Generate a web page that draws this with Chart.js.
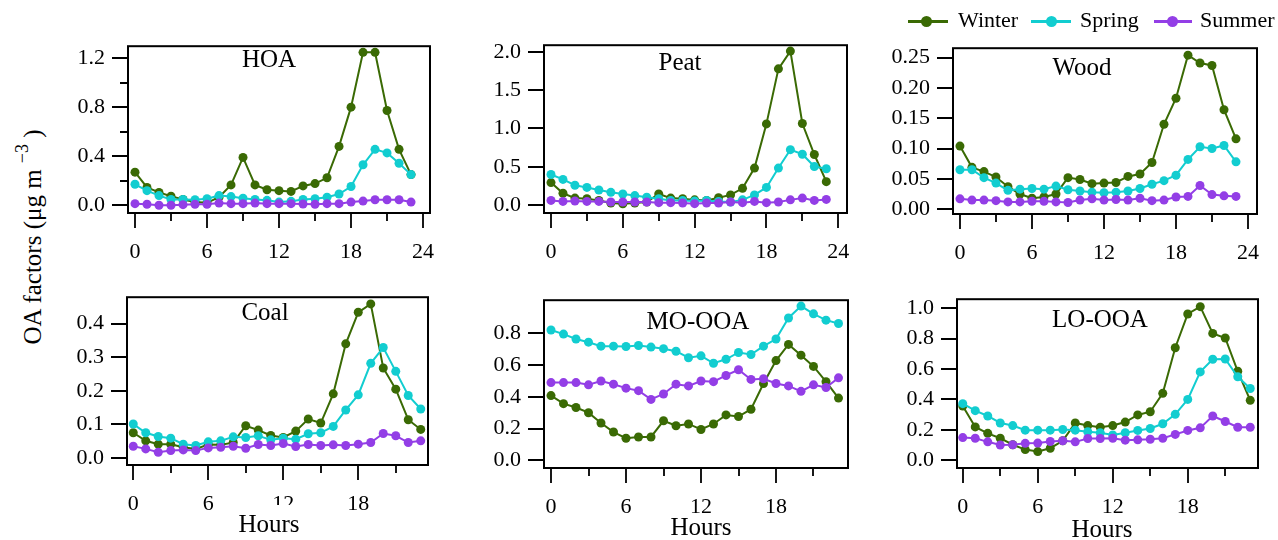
<!DOCTYPE html>
<html>
<head>
<meta charset="utf-8">
<script src="https://cdn.jsdelivr.net/npm/chart.js@4.4.1/dist/chart.umd.min.js"></script>
<style>
  body { margin: 0; background: #fff; }
  #wrap { position: relative; width: 1278px; height: 540px; overflow: hidden;
          font-family: 'Liberation Serif', 'Times New Roman', serif; color: #000; }
  #wrap canvas { position: absolute; }
  .lbl { position: absolute; line-height: 1; white-space: nowrap; z-index: 2; }
  .title { font-size: 25px; transform: translateX(-50%); }
  .hours { font-size: 25px; transform: translateX(-50%); background: #fff; padding: 0 3px; }
  .leg { font-size: 22px; }
  .legline { position: absolute; height: 3px; z-index: 2; }
  .legdot { position: absolute; width: 11px; height: 11px; border-radius: 50%; z-index: 2; }
  #ylab { position: absolute; left: 33px; top: 237px; font-size: 25px; white-space: nowrap;
          transform: translate(-50%, -50%) rotate(-90deg); }
  #ylab .sup { font-size: 18px; position: relative; top: -13px; }
</style>
</head>
<body>
<div id="wrap">
  <div id="ylab">OA factors (μg m <span class="sup">−3</span> )</div>

  <div class="lbl title" style="left:269px; top:45.6px">HOA</div>
  <div class="lbl title" style="left:680px; top:49px">Peat</div>
  <div class="lbl title" style="left:1082px; top:54px">Wood</div>
  <div class="lbl title" style="left:265px; top:299px">Coal</div>
  <div class="lbl title" style="left:698px; top:308px">MO-OOA</div>
  <div class="lbl title" style="left:1100px; top:305.6px">LO-OOA</div>

  <div class="lbl hours" style="left:269px; top:505px; padding-top:5.6px">Hours</div>
  <div class="lbl hours" style="left:701px; top:514px">Hours</div>
  <div class="lbl hours" style="left:1102px; top:515.6px">Hours</div>

  <div class="legline" style="left:908px; top:20px; width:40px; background:#3a6a04"></div>
  <div class="legdot" style="left:921px; top:16px; background:#3a6a04"></div>
  <div class="lbl leg" style="left:958px; top:9.4px">Winter</div>
  <div class="legline" style="left:1031px; top:20px; width:40px; background:#12cdd0"></div>
  <div class="legdot" style="left:1046px; top:16px; background:#12cdd0"></div>
  <div class="lbl leg" style="left:1080px; top:9.4px">Spring</div>
  <div class="legline" style="left:1154px; top:20px; width:38px; background:#933ee6"></div>
  <div class="legdot" style="left:1167px; top:16px; background:#933ee6"></div>
  <div class="lbl leg" style="left:1200px; top:9.4px">Summer</div>
</div>
<script>
// hours of day
const hours = [0,1,2,3,4,5,6,7,8,9,10,11,12,13,14,15,16,17,18,19,20,21,22,23];
const seasons = ['Winter', 'Spring', 'Summer'];
const colors = ['#3a6a04', '#12cdd0', '#933ee6'];

// diurnal profiles (ug m-3)
const hoaWinter = [0.27,0.145,0.105,0.074,0.047,0.026,0.02,0.066,0.166,0.39,0.166,0.127,0.119,0.113,0.158,0.177,0.224,0.48,0.80,1.247,1.247,0.773,0.456,0.25];
const hoaSpring = [0.171,0.119,0.079,0.047,0.047,0.045,0.053,0.079,0.071,0.058,0.047,0.04,0.026,0.032,0.047,0.053,0.066,0.092,0.153,0.33,0.456,0.427,0.343,0.25];
const hoaSummer = [0.013,0.008,0.0,0.0,0.005,0.008,0.008,0.018,0.013,0.013,0.018,0.013,0.013,0.013,0.01,0.008,0.013,0.013,0.026,0.034,0.045,0.045,0.045,0.026];

const peatWinter = [0.295,0.156,0.093,0.084,0.063,0.03,0.02,0.03,0.042,0.147,0.093,0.084,0.07,0.063,0.097,0.135,0.22,0.484,1.06,1.777,2.008,1.065,0.661,0.307];
const peatSpring = [0.40,0.337,0.261,0.232,0.198,0.168,0.147,0.126,0.105,0.084,0.063,0.063,0.055,0.063,0.05,0.042,0.07,0.135,0.232,0.484,0.724,0.665,0.505,0.476];
const peatSummer = [0.063,0.05,0.055,0.05,0.05,0.042,0.042,0.042,0.042,0.034,0.034,0.03,0.021,0.03,0.03,0.042,0.034,0.05,0.034,0.042,0.07,0.093,0.063,0.076];

const woodWinter = [0.104,0.069,0.062,0.053,0.037,0.025,0.018,0.02,0.025,0.052,0.049,0.042,0.043,0.044,0.054,0.058,0.077,0.14,0.183,0.254,0.241,0.237,0.164,0.116];
const woodSpring = [0.065,0.065,0.052,0.043,0.031,0.033,0.034,0.033,0.038,0.032,0.03,0.028,0.027,0.028,0.03,0.034,0.041,0.047,0.056,0.082,0.103,0.1,0.105,0.078];
const woodSummer = [0.017,0.015,0.015,0.014,0.012,0.012,0.013,0.013,0.012,0.011,0.015,0.017,0.015,0.016,0.015,0.018,0.014,0.015,0.02,0.021,0.039,0.024,0.022,0.021];

const coalWinter = [0.075,0.051,0.041,0.041,0.032,0.027,0.04,0.039,0.046,0.096,0.083,0.067,0.061,0.08,0.116,0.104,0.191,0.34,0.434,0.459,0.268,0.205,0.114,0.085];
const coalSpring = [0.101,0.075,0.064,0.059,0.041,0.037,0.048,0.051,0.063,0.061,0.066,0.054,0.059,0.056,0.072,0.075,0.094,0.143,0.188,0.282,0.329,0.258,0.186,0.146];
const coalSummer = [0.035,0.027,0.017,0.022,0.024,0.022,0.03,0.032,0.035,0.029,0.04,0.037,0.043,0.034,0.04,0.037,0.039,0.037,0.041,0.046,0.073,0.066,0.046,0.051];

const mooaWinter = [0.408,0.357,0.333,0.30,0.235,0.178,0.139,0.147,0.147,0.249,0.218,0.229,0.194,0.229,0.286,0.276,0.322,0.484,0.629,0.731,0.663,0.592,0.496,0.392];
const mooaSpring = [0.822,0.796,0.765,0.745,0.72,0.72,0.718,0.724,0.714,0.704,0.688,0.647,0.659,0.612,0.637,0.68,0.667,0.72,0.765,0.898,0.973,0.924,0.884,0.863];
const mooaSummer = [0.49,0.49,0.49,0.476,0.50,0.48,0.455,0.439,0.384,0.418,0.48,0.469,0.50,0.496,0.535,0.571,0.51,0.514,0.484,0.469,0.435,0.476,0.459,0.52];

const looaWinter = [0.357,0.219,0.177,0.145,0.102,0.07,0.057,0.079,0.128,0.245,0.228,0.217,0.228,0.251,0.298,0.319,0.44,0.74,0.962,1.01,0.834,0.804,0.585,0.394];
const looaSpring = [0.372,0.326,0.291,0.245,0.228,0.198,0.198,0.198,0.202,0.198,0.187,0.181,0.166,0.181,0.196,0.209,0.24,0.302,0.4,0.581,0.664,0.666,0.549,0.472];
const looaSummer = [0.149,0.145,0.121,0.10,0.102,0.111,0.113,0.123,0.128,0.121,0.143,0.143,0.145,0.132,0.134,0.138,0.145,0.17,0.196,0.213,0.291,0.255,0.217,0.217];

// tick values and labels
const topHourTicks = [0,3,6,9,12,15,18,21,24];
const topHourLabels = [0,6,12,18,24];
const botHourTicks = [0,3,6,9,12,15,18,21];
const botHourLabels = [0,6,12,18];
const hoaTicks = [0,0.2,0.4,0.6,0.8,1.0,1.2];
const hoaLabels = [0,0.4,0.8,1.2];
const peatTicks = [0,0.5,1.0,1.5,2.0];
const woodTicks = [0,0.05,0.1,0.15,0.2,0.25];
const coalTicks = [0,0.1,0.2,0.3,0.4];
const mooaTicks = [0,0.2,0.4,0.6,0.8];
const looaTicks = [0,0.2,0.4,0.6,0.8,1.0];

Chart.defaults.font.family = "'Liberation Serif', 'Times New Roman', serif";
Chart.defaults.color = '#000';

const YW = 80, XH = 55, PT = 15, PR = 20;

// frame around plot area + tick marks (long for labelled, short for minor)
const framePlugin = {
  id: 'frame',
  afterDraw(chart) {
    const { ctx, chartArea: a, scales: { x, y } } = chart;
    const o = chart.options.plugins.frame;
    ctx.save();
    ctx.strokeStyle = '#000';
    ctx.lineWidth = 2;
    ctx.strokeRect(a.left, a.top, a.right - a.left, a.bottom - a.top);
    ctx.lineWidth = 1.8;
    ctx.beginPath();
    x.ticks.forEach(t => {
      const px = Math.round(x.getPixelForValue(t.value));
      const len = o.xMajor.includes(t.value) ? 15 : 8;
      ctx.moveTo(px, a.bottom); ctx.lineTo(px, a.bottom + len);
    });
    y.ticks.forEach(t => {
      const py = Math.round(y.getPixelForValue(t.value));
      const len = o.yMajor.includes(t.value) ? 16 : 8;
      ctx.moveTo(a.left, py); ctx.lineTo(a.left - len, py);
    });
    ctx.stroke();
    ctx.restore();
  }
};

const panels = [
  { frame: [128, 41, 430, 213], x: [-0.583, 24.58], y: [-0.063, 1.297], xt: topHourTicks, xl: topHourLabels, yt: hoaTicks, yl: hoaLabels, dec: 1, series: [hoaWinter, hoaSpring, hoaSummer] },
  { frame: [544, 40, 847, 213], x: [-0.585, 24.73], y: [-0.101, 2.085], xt: topHourTicks, xl: topHourLabels, yt: peatTicks, yl: peatTicks, dec: 1, series: [peatWinter, peatSpring, peatSummer] },
  { frame: [953, 43, 1257, 214], x: [-0.58, 24.75], y: [-0.008, 0.2655], xt: topHourTicks, xl: topHourLabels, yt: woodTicks, yl: woodTicks, dec: 2, series: [woodWinter, woodSpring, woodSummer] },
  { frame: [127, 292, 428, 465], x: [-0.5, 23.58], y: [-0.021, 0.479], xt: botHourTicks, xl: botHourLabels, yt: coalTicks, yl: coalTicks, dec: 1, series: [coalWinter, coalSpring, coalSummer] },
  { frame: [544, 295, 848, 468], x: [-0.56, 23.76], y: [-0.049, 1.01], xt: botHourTicks, xl: botHourLabels, yt: mooaTicks, yl: mooaTicks, dec: 1, series: [mooaWinter, mooaSpring, mooaSummer] },
  { frame: [957, 294, 1258, 468], x: [-0.46, 23.62], y: [-0.051, 1.059], xt: botHourTicks, xl: botHourLabels, yt: looaTicks, yl: looaTicks, dec: 1, series: [looaWinter, looaSpring, looaSummer] }
];

const wrap = document.getElementById('wrap');

panels.forEach(p => {
  const [L, T, R, B] = p.frame;
  const c = document.createElement('canvas');
  c.width = R - L + YW + PR;
  c.height = B - T + PT + XH;
  c.style.left = (L - YW) + 'px';
  c.style.top = (T - PT) + 'px';
  wrap.appendChild(c);

  new Chart(c, {
    type: 'line',
    data: {
      datasets: seasons.map((s, i) => ({
        label: s,
        data: hours.map((h, k) => ({ x: h, y: p.series[i][k] })),
        borderColor: colors[i],
        backgroundColor: colors[i],
        borderWidth: 2,
        pointRadius: 4.5,
        pointBorderWidth: 0,
        tension: 0,
        clip: false,
        order: 2 - i
      }))
    },
    options: {
      responsive: false,
      animation: false,
      events: [],
      layout: { padding: { top: PT, right: PR, left: 0, bottom: 0 } },
      plugins: {
        legend: { display: false },
        tooltip: { enabled: false },
        frame: { xMajor: p.xl, yMajor: p.yl }
      },
      scales: {
        x: {
          type: 'linear', min: p.x[0], max: p.x[1],
          afterBuildTicks: s => { s.ticks = p.xt.map(v => ({ value: v })); },
          afterFit: s => { s.height = XH; },
          grid: { drawOnChartArea: false, tickLength: 15, tickColor: 'rgba(0,0,0,0)' },
          border: { display: false },
          ticks: { autoSkip: false, maxRotation: 0, minRotation: 0, padding: 11, font: { size: 22 },
                   callback: v => p.xl.includes(v) ? String(v) : '' }
        },
        y: {
          type: 'linear', min: p.y[0], max: p.y[1],
          afterBuildTicks: s => { s.ticks = p.yt.map(v => ({ value: v })); },
          afterFit: s => { s.width = YW; },
          grid: { drawOnChartArea: false, tickLength: 16, tickColor: 'rgba(0,0,0,0)' },
          border: { display: false },
          ticks: { autoSkip: false, padding: 7, font: { size: 22 },
                   callback: v => p.yl.includes(v) ? v.toFixed(p.dec) : '' }
        }
      }
    },
    plugins: [framePlugin]
  });
});
</script>
</body>
</html>
